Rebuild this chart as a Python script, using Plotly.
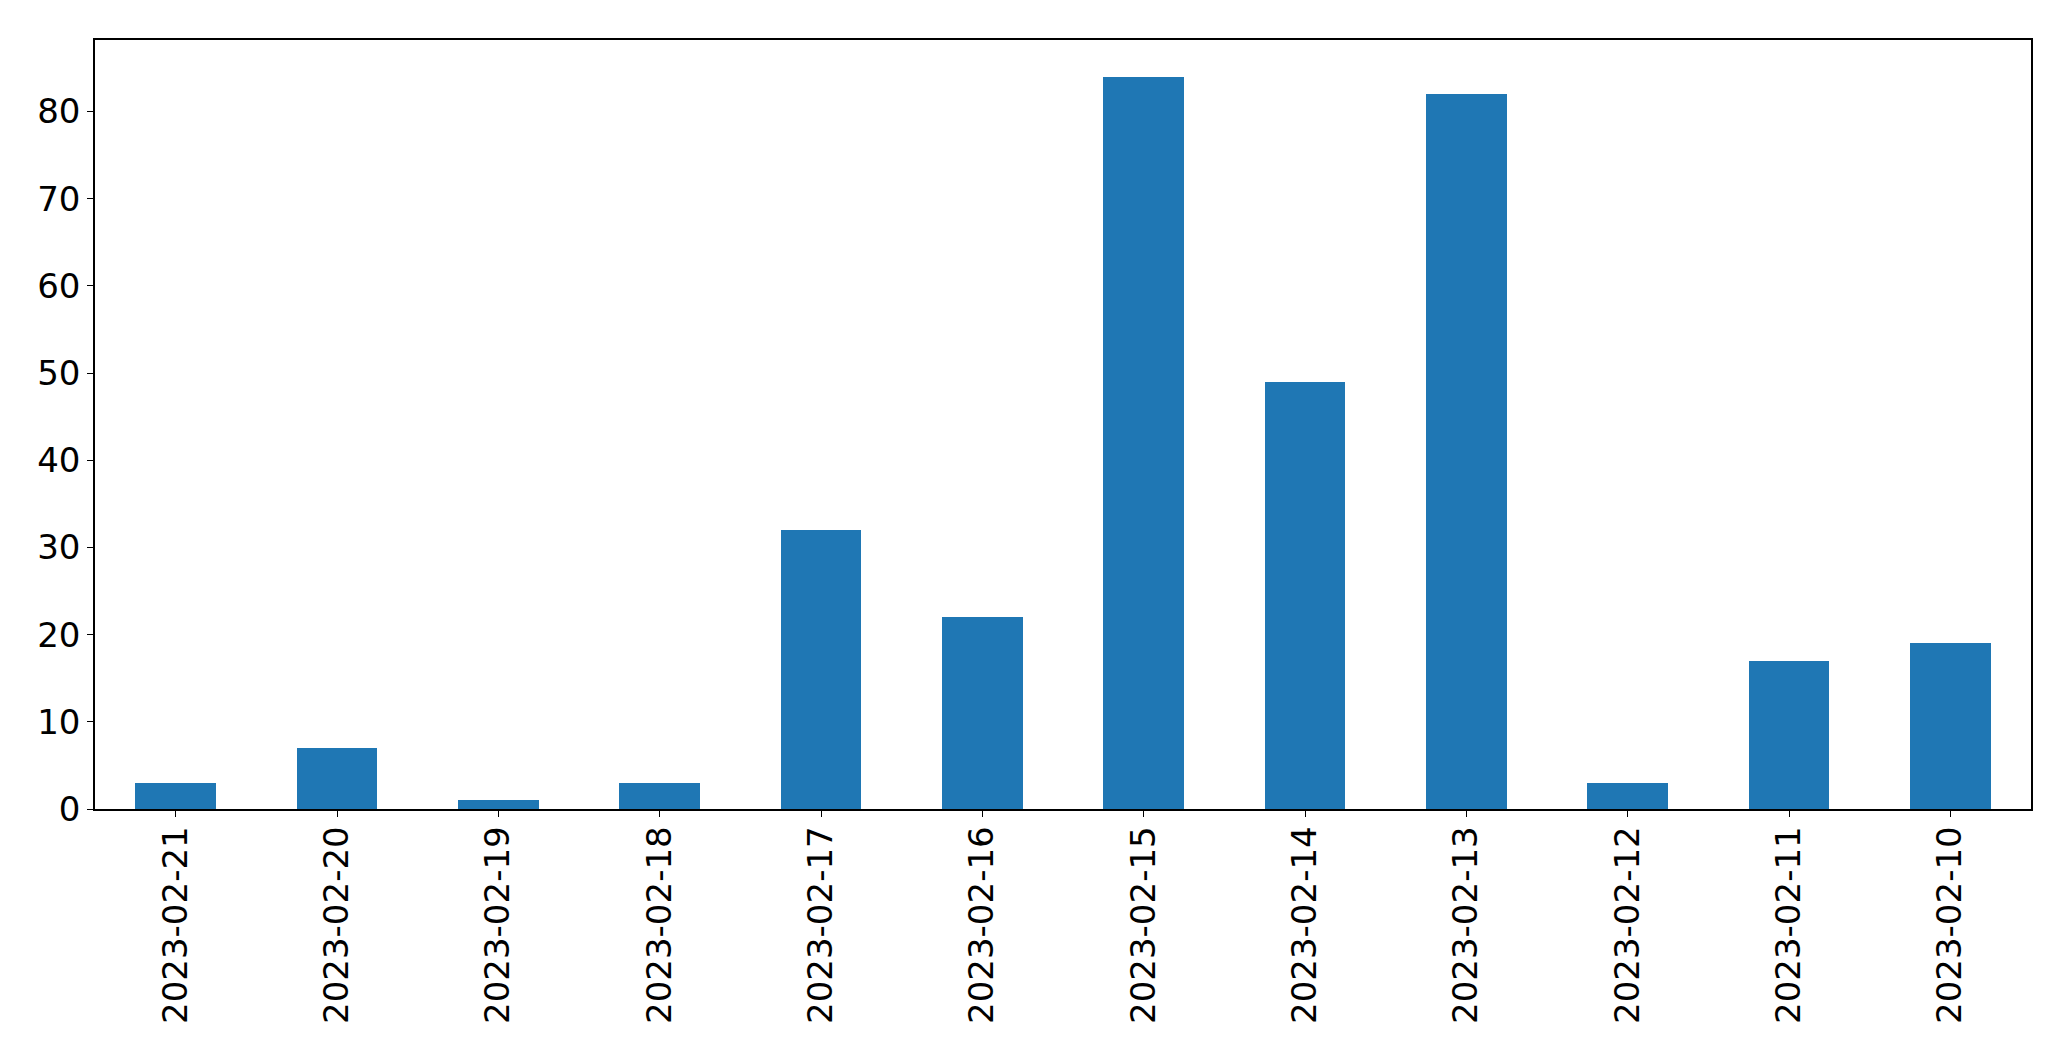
import plotly.graph_objects as go

dates = ["2023-02-21", "2023-02-20", "2023-02-19", "2023-02-18", "2023-02-17", "2023-02-16",
         "2023-02-15", "2023-02-14", "2023-02-13", "2023-02-12", "2023-02-11", "2023-02-10"]
counts = [3, 7, 1, 3, 32, 22, 84, 49, 82, 3, 17, 19]

fig = go.Figure(go.Bar(x=list(range(len(dates))), y=counts, width=0.5,
                       marker=dict(color="#1f77b4", line=dict(width=0))))

fig.update_layout(
    width=2071, height=1061,
    margin=dict(l=86.5, r=47.5, t=31.5, b=260),
    paper_bgcolor="white", plot_bgcolor="white",
    font=dict(family="DejaVu Sans", size=34, color="black"),
    showlegend=False, bargap=0,
)
fig.update_xaxes(
    range=[-0.5, len(dates) - 0.5], tickmode="array", tickvals=list(range(len(dates))),
    ticktext=dates, tickangle=-90, ticks="outside", ticklen=6, tickwidth=1.2, tickcolor="black",
    showline=True, linecolor="black", linewidth=1.5, mirror=True, showgrid=False, zeroline=False,
    ticklabelstandoff=-4,
)
fig.update_yaxes(
    range=[0, max(counts) * 1.05], tickmode="array", tickvals=[0, 10, 20, 30, 40, 50, 60, 70, 80],
    ticks="outside", ticklen=6, tickwidth=1.2, tickcolor="black",
    showline=True, linecolor="black", linewidth=1.5, mirror=True, showgrid=False, zeroline=False,
)

fig.write_html("out.html")
